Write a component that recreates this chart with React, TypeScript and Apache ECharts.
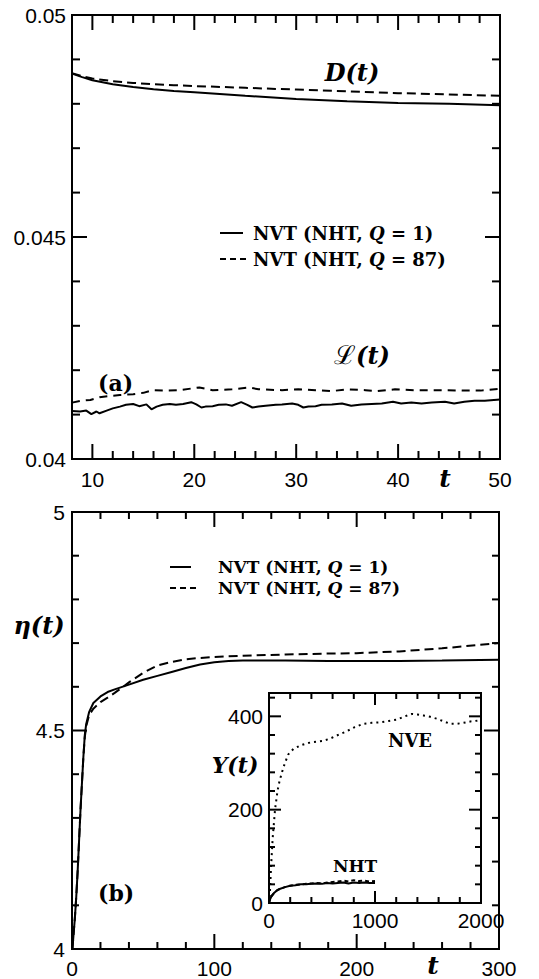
import React, { useEffect, useRef } from "react";
import * as echarts from "echarts";

// ---------- Panel (a): D(t) and L(t) ----------
const dT = [8, 9, 10, 12, 14, 16, 18, 20, 25, 30, 35, 40, 45, 50];
const dSolid = [0.04868, 0.0486, 0.04853, 0.04844, 0.04838, 0.04833, 0.04829, 0.04826, 0.04818, 0.04811, 0.04806, 0.04802, 0.048, 0.04797];
const dDashed = [0.04869, 0.04862, 0.04857, 0.04851, 0.04847, 0.04844, 0.04842, 0.0484, 0.04836, 0.04832, 0.04828, 0.04824, 0.04821, 0.04818];

const lT = [8, 8.8, 9.4, 9.9, 10.4, 10.7, 11.4, 12, 12.7, 13.3, 14, 14.6, 15.3, 15.8, 16.3, 16.9, 17.6, 18.2, 18.9, 19.7, 20.2, 20.7, 21.1, 21.8, 22.4, 23.1, 23.7, 24.6, 25.2, 25.7, 26.3, 27, 28, 28.6, 29.6, 30.2, 30.7, 31.2, 31.9, 32.5, 33.5, 34.5, 35.4, 36.4, 37.4, 38.4, 39.5, 40.3, 41.3, 42.3, 43.3, 44.6, 45.5, 46.5, 47.5, 48.5, 50];
const lSolid = [0.04108, 0.04107, 0.04109, 0.04101, 0.04107, 0.04103, 0.04109, 0.04114, 0.04118, 0.04122, 0.04124, 0.04119, 0.04123, 0.04112, 0.04118, 0.04122, 0.04124, 0.04122, 0.04124, 0.04128, 0.04123, 0.04116, 0.04118, 0.04119, 0.04122, 0.04123, 0.0412, 0.04128, 0.04122, 0.04116, 0.04118, 0.0412, 0.04122, 0.04123, 0.04125, 0.04122, 0.04116, 0.04118, 0.04119, 0.04122, 0.04123, 0.04125, 0.0412, 0.04123, 0.04124, 0.04125, 0.04129, 0.04125, 0.04127, 0.04125, 0.04127, 0.04129, 0.04125, 0.04129, 0.04131, 0.04131, 0.04134];
const lDashT = [8, 8.8, 9.8, 10.7, 11.7, 12.7, 14, 15, 15.9, 17.2, 18.5, 19.8, 20.5, 21.8, 23.7, 25.4, 26.3, 28.6, 30.2, 31.9, 33.5, 35.1, 36.8, 38, 39.7, 41.6, 43.3, 44.9, 46.5, 48.1, 50];
const lDashed = [0.04127, 0.04131, 0.04133, 0.04139, 0.04142, 0.04144, 0.04146, 0.04149, 0.04155, 0.04154, 0.04155, 0.04159, 0.04161, 0.04155, 0.04157, 0.04161, 0.04157, 0.04155, 0.04157, 0.04155, 0.04153, 0.04157, 0.04155, 0.04153, 0.04157, 0.04155, 0.04155, 0.04155, 0.04154, 0.04154, 0.04158];

// ---------- Panel (b): eta(t) ----------
const etaT = [0.3, 1, 2, 3, 4, 5, 6, 7, 8, 9, 10, 12, 15, 20, 25, 30, 40, 50, 60, 70, 80, 90, 100, 110, 120, 150, 180, 200, 230, 260, 300];
const etaSolid = [4.0, 4.03, 4.07, 4.12, 4.18, 4.25, 4.32, 4.38, 4.44, 4.49, 4.515, 4.542, 4.563, 4.578, 4.588, 4.594, 4.605, 4.616, 4.625, 4.634, 4.643, 4.651, 4.656, 4.659, 4.66, 4.66, 4.659, 4.659, 4.659, 4.66, 4.662];
const etaDashed = [4.0, 4.03, 4.07, 4.12, 4.18, 4.25, 4.32, 4.38, 4.44, 4.485, 4.51, 4.535, 4.55, 4.565, 4.575, 4.586, 4.61, 4.632, 4.649, 4.657, 4.663, 4.666, 4.668, 4.67, 4.671, 4.674, 4.676, 4.677, 4.681, 4.688, 4.7];

// ---------- Inset: Y(t) ----------
const nveT = [0, 8, 20, 35, 57, 80, 100, 135, 180, 230, 300, 370, 420, 500, 575, 650, 733, 810, 890, 970, 1050, 1130, 1205, 1280, 1346, 1400, 1456, 1520, 1582, 1650, 1708, 1770, 1833, 1900, 1975];
const nveY = [0, 20, 80, 140, 200, 240, 262, 290, 318, 330, 338, 343, 345, 347, 352, 360, 368, 377, 384, 386, 387, 390, 393, 400, 405, 404, 402, 399, 395, 389, 384, 384, 386, 389, 391];
const nhtT = [0, 10, 25, 50, 75, 100, 150, 200, 250, 300, 350, 400, 450, 500, 550, 600, 650, 700, 750, 800, 850, 900, 950, 1000];
const nhtSolid = [0, 8, 15, 22, 27, 30, 34, 37, 38, 40, 40, 41, 42, 41, 43, 42, 43, 44, 42, 44, 43, 44, 43, 43];
const nhtDashed = [0, 8, 15, 22, 27, 30, 34, 37, 39, 40, 41, 42, 43, 42, 44, 45, 46, 48, 46, 49, 47, 48, 46, 47];

// ---------- tick positions / labels ----------
const aXMajor = [10, 20, 30, 40];
const aXMinor = [12, 14, 16, 18, 22, 24, 26, 28, 32, 34, 36, 38, 42, 44, 46, 48];
const aXLabels = [10, 20, 30, 40, 50];
const aYMajor = [0.045];
const aYMinor = [0.041, 0.042, 0.043, 0.044, 0.046, 0.047, 0.048, 0.049];
const aYLabels = [0.04, 0.045, 0.05];
const bXMajor = [100, 200];
const bXMinor = [20, 40, 60, 80, 120, 140, 160, 180, 220, 240, 260, 280];
const bXLabels = [0, 100, 200, 300];
const bYMajor = [4.5];
const bYMinor = [4.1, 4.2, 4.3, 4.4, 4.6, 4.7, 4.8, 4.9];
const bYLabels = [4, 4.5, 5];
const iXMajor = [1000];
const iXMinor = [200, 400, 600, 800, 1200, 1400, 1600, 1800];
const iXLabels = [0, 1000, 2000];
const iYMajor = [200, 400];
const iYMinor = [40, 80, 120, 160, 240, 280, 320, 360, 440];
const iYLabels = [0, 200, 400];

const pairs = (xs: number[], ys: number[]) => xs.map((x, i) => [x, ys[i]]);

const SANS = "'Liberation Sans', Arial, sans-serif";

// grid boxes (layout)
const GRIDS = [
  { left: 72, top: 15, width: 428, height: 444 },
  { left: 72, top: 512, width: 427, height: 438 },
  { left: 269, top: 693, width: 212, height: 210 },
];

function axis(dim: "x" | "y", grid: number, min: number, max: number, labels: number[], margin: number) {
  return {
    type: "value",
    gridIndex: grid,
    min,
    max,
    position: dim === "x" ? "bottom" : "left",
    axisLine: { show: false, onZero: false },
    splitLine: { show: false },
    axisTick: { show: false },
    axisLabel: {
      show: true,
      customValues: labels,
      margin,
      color: "#000",
      fontSize: 21,
      fontFamily: SANS,
      formatter: (v: number) => String(v),
    },
  };
}

function txt(x: number, y: number, text: string, font: string, align = "center", rich?: any) {
  return {
    type: "text",
    x,
    y,
    z: 100,
    style: {
      text,
      font,
      fill: "#000",
      align,
      verticalAlign: "middle",
      textAlign: align,
      textVerticalAlign: "middle",
      rich,
    },
  };
}

function ln(x1: number, x2: number, y: number, dash?: number[]) {
  return {
    type: "line",
    z: 100,
    shape: { x1, y1: y, x2, y2: y },
    style: { stroke: "#000", lineWidth: 2, lineDash: dash },
  };
}

const legendRich = (size: number) => ({
  b: { fontFamily: "DejaVu Serif", fontWeight: "bold", fontSize: size, fill: "#000" },
  i: { fontFamily: "DejaVu Serif", fontWeight: "bold", fontStyle: "italic", fontSize: size, fill: "#000" },
});
const mathRich = (size: number) => ({
  i: { fontFamily: "DejaVu Serif", fontWeight: "bold", fontStyle: "italic", fontSize: size, fill: "#000" },
  s: { fontFamily: "DejaVu Serif", fontSize: size + 2, fill: "#000" },
});

const tickSpecs = [
  { g: 0, xMajT: aXMajor, xMinT: aXMinor, yMajT: aYMajor, yMinT: aYMinor, xLo: 8, xHi: 50, yLo: 0.04, yHi: 0.05, majLen: 15, minLen: 8 },
  { g: 1, xMajT: bXMajor, xMinT: bXMinor, yMajT: bYMajor, yMinT: bYMinor, xLo: 0, xHi: 300, yLo: 4, yHi: 5, majLen: 15, minLen: 7 },
  { g: 2, xMajT: iXMajor, xMinT: iXMinor, yMajT: iYMajor, yMinT: iYMinor, xLo: 0, xHi: 2000, yLo: 0, yHi: 450, majLen: 12, minLen: 6 },
];

// inward tick marks on all four sides
function buildTicks(chart: any) {
  const out: any[] = [];
  const seg = (x1: number, y1: number, x2: number, y2: number) =>
    out.push({ type: "line", z: 90, silent: true, shape: { x1, y1, x2, y2 }, style: { stroke: "#000", lineWidth: 2 } });
  tickSpecs.forEach((s) => {
    const G = GRIDS[s.g];
    const px = (x: number, y: number): number[] => {
      let p: any = null;
      try {
        p = chart.convertToPixel({ xAxisIndex: s.g, yAxisIndex: s.g }, [x, y]);
      } catch (e) {
        p = null;
      }
      if (p && isFinite(p[0]) && isFinite(p[1])) return [p[0], p[1]];
      // fallback: linear mapping of the axis range onto the grid box
      return [
        G.left + ((x - s.xLo) / (s.xHi - s.xLo)) * G.width,
        G.top + G.height - ((y - s.yLo) / (s.yHi - s.yLo)) * G.height,
      ];
    };
    const xt = (v: number, len: number) => {
      const b = px(v, s.yLo);
      const t = px(v, s.yHi);
      seg(b[0], b[1], b[0], b[1] - len);
      seg(t[0], t[1], t[0], t[1] + len);
    };
    const yt = (v: number, len: number) => {
      const l = px(s.xLo, v);
      const r = px(s.xHi, v);
      seg(l[0], l[1], l[0] + len, l[1]);
      seg(r[0], r[1], r[0] - len, r[1]);
    };
    s.xMajT.forEach((v) => xt(v, s.majLen));
    s.xMinT.forEach((v) => xt(v, s.minLen));
    s.yMajT.forEach((v) => yt(v, s.majLen));
    s.yMinT.forEach((v) => yt(v, s.minLen));
  });
  return out;
}

export default function App() {
  const ref = useRef<HTMLDivElement>(null);
  useEffect(() => {
    if (!ref.current) return;
    const chart = echarts.init(ref.current, null, { renderer: "svg" });
    const xAxis = [
      axis("x", 0, 8, 50, aXLabels, 10),
      axis("x", 1, 0, 300, bXLabels, 9),
      axis("x", 2, 0, 2000, iXLabels, 7),
    ];
    const yAxis = [
      axis("y", 0, 0.04, 0.05, aYLabels, 6),
      axis("y", 1, 4, 5, bYLabels, 7),
      axis("y", 2, 0, 450, iYLabels, 6),
    ];
    const line = (g: number, data: number[][], type: any, width = 2) => ({
      type: "line",
      xAxisIndex: g,
      yAxisIndex: g,
      data,
      symbol: "none",
      showSymbol: false,
      silent: true,
      lineStyle: { color: "#000", width, type, cap: "butt" },
      z: 5,
    });
    const texts = [
      // panel (a)
      txt(352, 72, "{i|D(t)}", "bold italic 24px DejaVu Serif", "center", mathRich(24)),
      txt(362, 355, "{s|ℒ}{i|(t)}", "bold italic 24px DejaVu Serif", "center", mathRich(24)),
      txt(98, 383, "(a)", "bold 22px DejaVu Serif", "left"),
      txt(445, 478, "t", "bold italic 25px DejaVu Serif", "center"),
      ln(220, 243, 233),
      ln(220, 248, 259, [6, 4]),
      txt(253, 233, "{b|NVT (NHT, }{i|Q}{b| = 1)}", "bold 18px DejaVu Serif", "left", legendRich(18)),
      txt(253, 259, "{b|NVT (NHT, }{i|Q}{b| = 87)}", "bold 18px DejaVu Serif", "left", legendRich(18)),
      // panel (b)
      txt(39, 625, "{i|η(t)}", "bold italic 24px DejaVu Serif", "center", mathRich(24)),
      txt(98, 893, "(b)", "bold 22px DejaVu Serif", "left"),
      txt(433, 965, "t", "bold italic 25px DejaVu Serif", "center"),
      ln(170, 191, 567),
      ln(170, 197, 588, [6, 4]),
      txt(218, 567, "{b|NVT (NHT, }{i|Q}{b| = 1)}", "bold 17px DejaVu Serif", "left", legendRich(17)),
      txt(218, 588, "{b|NVT (NHT, }{i|Q}{b| = 87)}", "bold 17px DejaVu Serif", "left", legendRich(17)),
      // inset
      txt(235, 765, "{i|Y(t)}", "bold italic 22px DejaVu Serif", "center", mathRich(22)),
      txt(410, 740, "NVE", "bold 18px DejaVu Serif", "center"),
      txt(355, 866, "NHT", "bold 17px DejaVu Serif", "center"),
    ];
    const option: any = {
      animation: false,
      backgroundColor: "#fff",
      grid: GRIDS.map((G, i) => ({
        ...G,
        show: true,
        borderColor: "#000",
        borderWidth: 2,
        backgroundColor: i === 2 ? "#fff" : "transparent",
        containLabel: false,
      })),
      xAxis,
      yAxis,
      series: [
        line(0, pairs(dT, dSolid), "solid"),
        line(0, pairs(dT, dDashed), [9, 5]),
        line(0, pairs(lT, lSolid), "solid"),
        line(0, pairs(lDashT, lDashed), [8, 6]),
        line(1, pairs(etaT, etaSolid), "solid"),
        line(1, pairs(etaT, etaDashed), [9, 5]),
        line(2, pairs(nveT, nveY), [2, 4]),
        line(2, pairs(nhtT, nhtSolid), "solid"),
        line(2, pairs(nhtT, nhtDashed), [4, 3]),
      ],
      graphic: texts,
    };
    chart.setOption(option);
    const ticks = buildTicks(chart);
    chart.setOption({ ...option, graphic: [...texts, ...ticks] }, true);
    return () => chart.dispose();
  }, []);
  return (
    <div
      ref={ref}
      style={{ position: "absolute", left: 0, top: 0, width: 539, height: 979, background: "#fff" }}
    />
  );
}
